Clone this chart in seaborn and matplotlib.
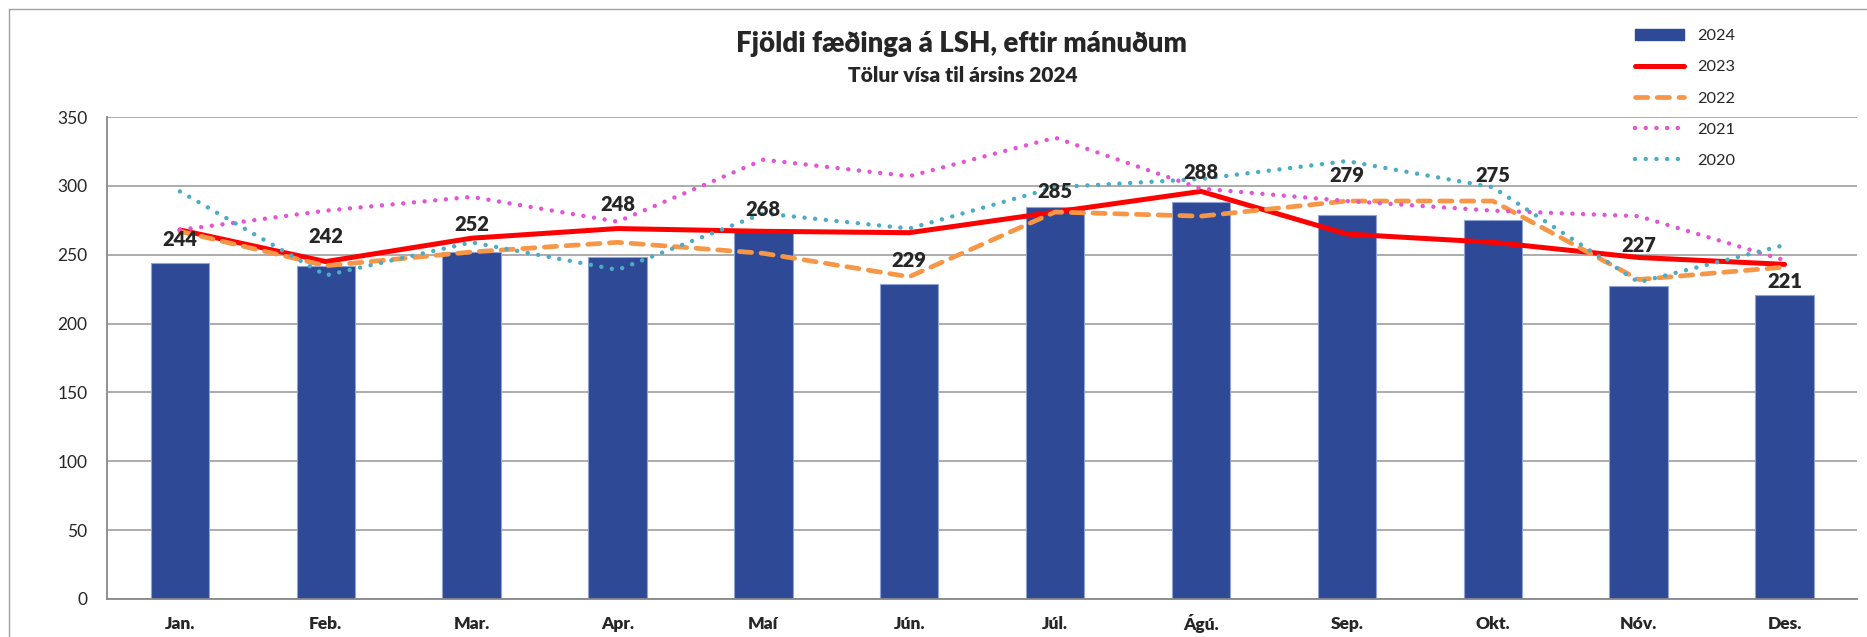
import numpy as np
import pandas as pd
import matplotlib.pyplot as plt
import seaborn as sns
from matplotlib.lines import Line2D

months = ['Jan.', 'Feb.', 'Mar.', 'Apr.', 'Maí', 'Jún.', 'Júl.', 'Ágú.', 'Sep.', 'Okt.', 'Nóv.', 'Des.']
births_2024 = [244, 242, 252, 248, 268, 229, 285, 288, 279, 275, 227, 221]
births_2023 = [268, 245, 262, 269, 267, 266, 281, 296, 265, 259, 248, 243]
births_2022 = [267, 242, 252, 259, 251, 234, 281, 278, 289, 289, 232, 241]
births_2021 = [268, 282, 292, 274, 319, 307, 335, 298, 289, 282, 278, 246]
births_2020 = [296, 235, 259, 239, 280, 269, 299, 305, 318, 299, 230, 257]

# how far above the bar top each label sits (px), placed by hand like in the original
label_lift_px = [23, 29, 27, 53, 20, 23, 15, 30, 39, 45, 41, 13]

sns.set_style('white')
plt.rcParams['font.family'] = ['Lato', 'DejaVu Sans']

fig = plt.figure(figsize=(18.67, 6.37), dpi=100)
ax = fig.add_axes([0.0573, 0.0597, 0.9376, 0.7566])

df = pd.DataFrame({'month': months, 'births': births_2024})
sns.barplot(data=df, x='month', y='births', order=months, color='#2E4A96',
            saturation=1, width=0.4, edgecolor='#8FA3D6', linewidth=0.8, ax=ax, zorder=2)

pos = np.arange(len(months))
line_styles = [
    ('2023', births_2023, '#FF0000', '-', 3.6),
    ('2022', births_2022, '#F79646', (0, (2.6, 2.0)), 3.4),
    ('2021', births_2021, '#E455D6', (0, (0.01, 2.4)), 3.2),
    ('2020', births_2020, '#4BACC6', (0, (0.01, 2.4)), 3.2),
]
handles = [plt.Rectangle((0, 0), 1, 1, color='#2E4A96')]
for name, vals, col, ls, lw in line_styles:
    sns.lineplot(x=pos, y=vals, color=col, linestyle=ls, linewidth=lw, ax=ax,
                 dash_capstyle='round', solid_capstyle='round', zorder=3)
    handles.append(Line2D([], [], color=col, linestyle=ls, linewidth=lw,
                          dash_capstyle='round', solid_capstyle='round'))

for i, v in enumerate(births_2024):
    ax.annotate(str(v), (i, v), xytext=(0, label_lift_px[i] * 0.72), textcoords='offset points',
                ha='center', va='center', fontsize=14.5, fontweight='heavy', zorder=4)

ax.set_ylim(0, 350)
ax.set_xlim(-0.5, len(months) - 0.5)
ax.set_yticks(range(0, 351, 50))
ax.yaxis.grid(True, color='#A6A6A6', linewidth=1.3, zorder=0)
ax.set_axisbelow(True)
ax.set_xlabel('')
ax.set_ylabel('')
ax.set_xticks(pos)
ax.set_xticklabels(months, fontweight='heavy', fontsize=12.5, va='center')
ax.set_xticks(np.arange(-0.5, len(months), 1), minor=True)
ax.tick_params(axis='x', which='major', length=0, pad=18)
ax.tick_params(axis='x', which='minor', length=5, color='#888888', width=1.2, direction='out')
ax.tick_params(axis='y', length=0, pad=14, labelsize=12.5)
for s in ['top', 'right']:
    ax.spines[s].set_visible(False)
for s in ['left', 'bottom']:
    ax.spines[s].set_color('#888888')
    ax.spines[s].set_linewidth(1.3)

fig.text(961 / 1867, 1 - 44 / 637, 'Fjöldi fæðinga á LSH, eftir mánuðum',
         ha='center', va='center', fontsize=19.8, fontweight='heavy')
fig.text(963 / 1867, 1 - 76 / 637, 'Tölur vísa til ársins 2024',
         ha='center', va='center', fontsize=15, fontweight='heavy')

fig.legend(handles, ['2024', '2023', '2022', '2021', '2020'], loc='upper left',
           bbox_to_anchor=(1620 / 1867, 1 - 14 / 637), frameon=False, fontsize=11.8,
           handlelength=3.0, handletextpad=0.8, labelspacing=1.02)

# outer chart frame
fig.add_artist(Line2D([9 / 1867, 9 / 1867], [0, 1 - 9 / 637], color='#A0A0A0', lw=1, transform=fig.transFigure))
fig.add_artist(Line2D([9 / 1867, 1], [1 - 9 / 637, 1 - 9 / 637], color='#A0A0A0', lw=1, transform=fig.transFigure))

fig.savefig('out.png', dpi=100)
